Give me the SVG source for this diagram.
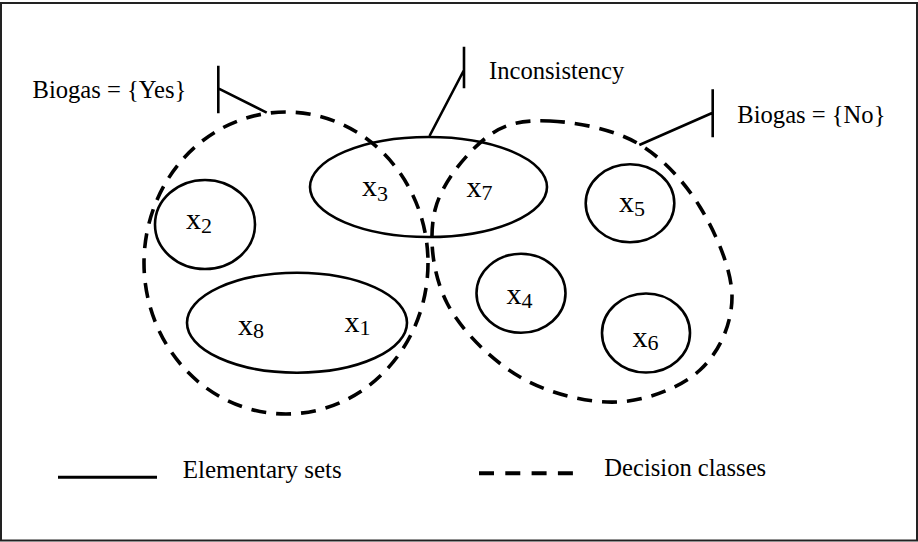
<svg xmlns="http://www.w3.org/2000/svg" width="918" height="542" viewBox="0 0 918 542">
<style>
.bg{fill:#fff}
.frame{fill:none;stroke:#222;stroke-width:2}
.set{fill:none;stroke:#000;stroke-width:2.6}
.cls{fill:none;stroke:#000;stroke-width:3.6;stroke-dasharray:15 10}
.call{fill:none;stroke:#000;stroke-width:2.6}
text{font-family:"Liberation Serif","Times New Roman",serif;fill:#000}
.lbl{font-size:24.6px}
.x{font-size:30px}
.sub{font-size:22px}
</style>
<rect class="bg" x="0" y="0" width="918" height="542"/>
<rect class="frame" x="1" y="3" width="916" height="537.5"/>

<g id="class-yes">
<ellipse class="cls" cx="286" cy="263" rx="142" ry="151"/>
</g>
<g id="class-no">
<path class="cls" d="M550 121 C575 122 612 128.7 637 143 C662 157.3 684.2 181.3 700 207 C715.8 232.7 732 269.8 732 297 C732 324.2 719.2 352.5 700 370 C680.8 387.5 647 400.8 617 402 C587 403.2 548.3 393.5 520 377 C491.7 360.5 461.2 330.8 447 303 C432.8 275.2 428.3 237.7 435 210 C441.7 182.3 467.8 151.8 487 137 C506.2 122.2 525 120 550 121 Z"/>
</g>

<g id="set-x2">
<ellipse class="set" cx="205" cy="224.5" rx="50" ry="44.5"/>
<text class="x" x="186" y="228.5">x<tspan class="sub" dy="4.5">2</tspan></text>
</g>
<g id="set-x3-x7">
<ellipse class="set" cx="428.5" cy="187" rx="118.5" ry="50"/>
<text class="x" x="362" y="196">x<tspan class="sub" dy="4.5">3</tspan></text>
<text class="x" x="466.5" y="196.5">x<tspan class="sub" dy="3.5">7</tspan></text>
</g>
<g id="set-x8-x1">
<ellipse class="set" cx="297" cy="322.7" rx="110" ry="50"/>
<text class="x" x="238" y="335">x<tspan class="sub" dy="3">8</tspan></text>
<text class="x" x="344.5" y="331.7">x<tspan class="sub" dy="3.5">1</tspan></text>
</g>
<g id="set-x5">
<ellipse class="set" cx="630" cy="203.3" rx="44.3" ry="39"/>
<text class="x" x="619" y="211.7">x<tspan class="sub" dy="4">5</tspan></text>
</g>
<g id="set-x4">
<ellipse class="set" cx="521" cy="293.3" rx="44.5" ry="39.5"/>
<text class="x" x="506.5" y="304">x<tspan class="sub" dy="3.5">4</tspan></text>
</g>
<g id="set-x6">
<ellipse class="set" cx="646" cy="333" rx="44" ry="39.5"/>
<text class="x" x="632.5" y="346.7">x<tspan class="sub" dy="3.5">6</tspan></text>
</g>

<g id="connectors">
<path class="call" d="M218.3 65.7 V113.3 M218.3 88.3 L266.7 112.7"/>
<path class="call" d="M464 46.7 V88.3 M464 70 L429.5 136"/>
<path class="call" d="M712.7 89.3 V137.3 M712.7 112.7 L639.3 145"/>
</g>

<g id="label-yes"><text class="lbl" x="32.5" y="97.5">Biogas = {Yes}</text></g>
<g id="label-inconsistency"><text class="lbl" x="489" y="79.3">Inconsistency</text></g>
<g id="label-no"><text class="lbl" x="737.3" y="123.3">Biogas = {No}</text></g>

<g id="legend">
<line x1="58" y1="477.3" x2="157" y2="477.3" stroke="#000" stroke-width="3"/>
<text class="lbl" x="182.7" y="478.3" style="font-size:25px">Elementary sets</text>
<line x1="479" y1="473.3" x2="573" y2="473.3" stroke="#000" stroke-width="4" stroke-dasharray="15 11.3"/>
<text class="lbl" x="604.3" y="476">Decision classes</text>
</g>
</svg>
